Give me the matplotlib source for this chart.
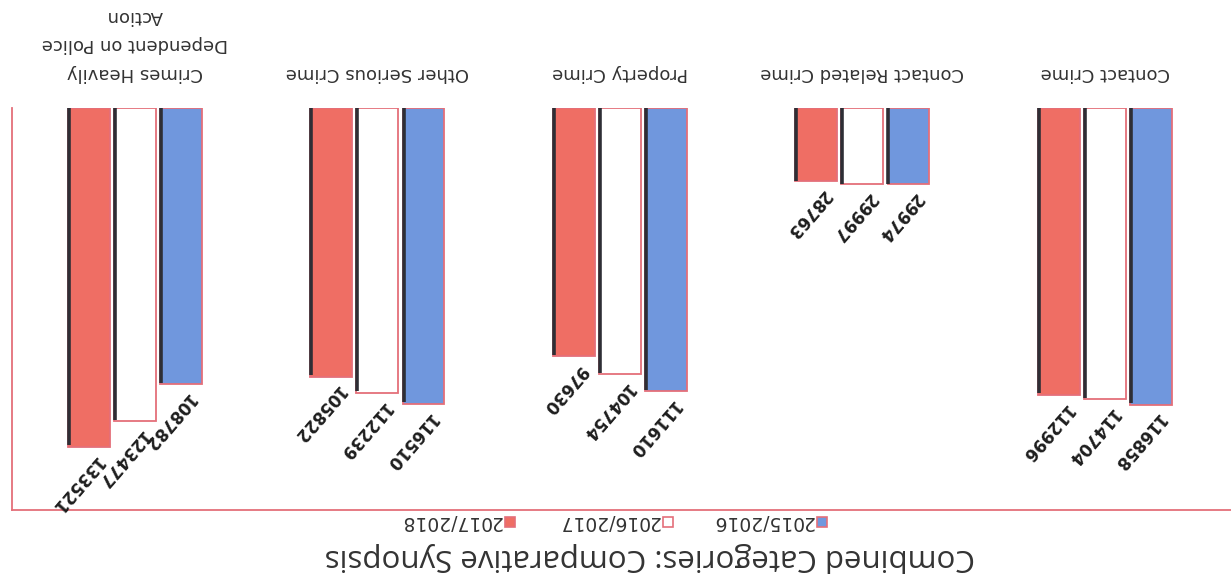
import matplotlib
matplotlib.use("Agg")
import matplotlib.pyplot as plt
from matplotlib.patches import Rectangle
import numpy as np

# --- data -------------------------------------------------------------
categories = [
    "Contact Crime",
    "Contact Related Crime",
    "Property Crime",
    "Other Serious Crime",
    "Crimes Heavily\nDependent on Police\nAction",
]
series_names = ["2015/2016", "2016/2017", "2017/2018"]
values_2015_2016 = [116858, 29974, 111610, 116510, 108782]
values_2016_2017 = [114704, 29997, 104754, 112239, 123477]
values_2017_2018 = [112996, 28763, 97630, 105822, 133521]
title = "Combined Categories: Comparative Synopsis"

series_values = [values_2015_2016, values_2016_2017, values_2017_2018]
fill_colors = ["#7097dd", "#ffffff", "#ef6e64"]
edge_color = "#e46f7a"
shadow_color = "#2e2e35"
text_color = "#333333"

W, H = 1231, 584
fig = plt.figure(figsize=(W / 100, H / 100), dpi=100)
fig.patch.set_facecolor("white")

# The whole page is drawn turned half a turn: both axes run reversed
# and every text is rotated by 180 degrees.
ax_left, ax_right = 12, 1231
ax_top, ax_bottom = 108, 510
ax = fig.add_axes([ax_left / W, (H - ax_bottom) / H,
                   (ax_right - ax_left) / W, (ax_bottom - ax_top) / H])

x = np.arange(len(categories))
bar_w = 0.173
step = 0.19

for k, (name, vals, fc) in enumerate(zip(series_names, series_values, fill_colors)):
    pos = x + (k - 1) * step
    ax.bar(pos, vals, width=bar_w, color=fc, edgecolor=edge_color,
           linewidth=1.3, zorder=2, label=name)
    # dark shadow along one long side of every bar
    ax.vlines(pos + bar_w / 2 - 0.004, 0, np.array(vals) * 0.995,
              color=shadow_color, linewidth=2.6, zorder=3)
    for px, v in zip(pos, vals):
        ax.annotate(f"{v}", xy=(px, v), xytext=(7, -8),
                    textcoords="offset points", rotation=229,
                    rotation_mode="anchor", ha="left", va="center",
                    fontsize=12, fontweight="bold", color="#1e1e1e",
                    family="DejaVu Sans", zorder=4)

ax.set_xlim(4.507, -0.52)
ax.set_ylim(158400, 0)

ax.xaxis.tick_top()
ax.set_xticks(x)
ax.set_xticklabels(categories, rotation=180, fontsize=13, color=text_color,
                   family="DejaVu Sans", linespacing=1.75)
ax.tick_params(axis="x", length=0, pad=19)
ax.set_yticks([])

for side in ("top", "right"):
    ax.spines[side].set_visible(False)
for side in ("left", "bottom"):
    ax.spines[side].set_color(edge_color)
    ax.spines[side].set_linewidth(1.3)

# --- legend (drawn by hand so it can sit turned over) ----------------
legend_square_x = [822, 668, 510]
legend_y = 522
for name, fc, sx in zip(series_names, fill_colors, legend_square_x):
    fig.patches.append(Rectangle(((sx - 5) / W, (H - legend_y - 5) / H),
                                 10 / W, 10 / H, transform=fig.transFigure,
                                 facecolor=fc, edgecolor=edge_color,
                                 linewidth=1.2))
    fig.text((sx - 8) / W, (H - legend_y) / H, name, rotation=180,
             ha="right", va="center", fontsize=13.5, color=text_color,
             family="DejaVu Sans")

# --- title ------------------------------------------------------------
fig.text(650 / W, (H - 557) / H, title, rotation=180, ha="center",
         va="center", fontsize=22.5, color="#333333", family="Open Sans")

fig.savefig("out.png", dpi=100, facecolor="white")
